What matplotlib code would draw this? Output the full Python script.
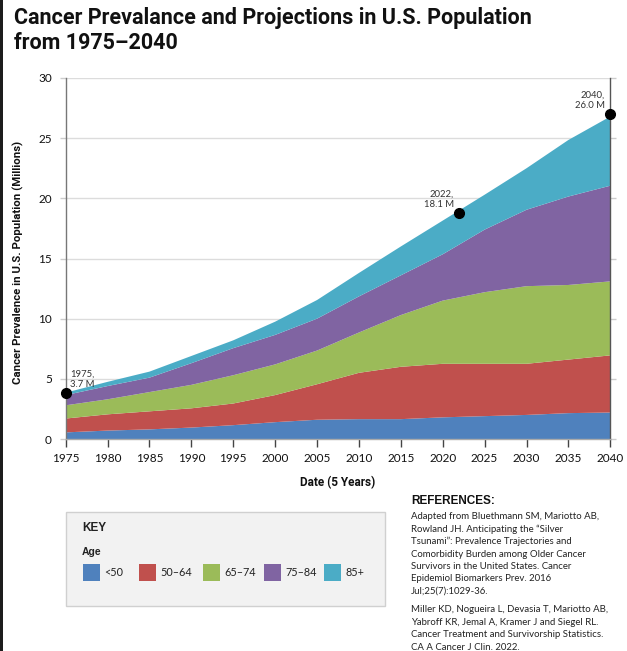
import matplotlib
matplotlib.use("Agg")
import matplotlib.pyplot as plt
from matplotlib.patches import Rectangle

# ---------------- data ----------------
years = [1975, 1980, 1985, 1990, 1995, 2000, 2005, 2010, 2015, 2020, 2025, 2030, 2035, 2040]
age_groups = ["<50", "50–64", "65–74", "75–84", "85+"]
under50 = [0.55, 0.70, 0.80, 0.95, 1.15, 1.40, 1.60, 1.65, 1.65, 1.80, 1.90, 2.00, 2.15, 2.20]
age50_64 = [1.15, 1.35, 1.50, 1.60, 1.80, 2.25, 2.95, 3.85, 4.35, 4.45, 4.35, 4.25, 4.45, 4.75]
age65_74 = [1.10, 1.25, 1.60, 1.95, 2.35, 2.55, 2.80, 3.35, 4.30, 5.25, 5.95, 6.45, 6.20, 6.15]
age75_84 = [0.85, 1.10, 1.20, 1.80, 2.25, 2.45, 2.65, 3.00, 3.30, 3.85, 5.20, 6.35, 7.35, 7.95]
age85p = [0.20, 0.35, 0.50, 0.60, 0.65, 1.10, 1.55, 1.95, 2.40, 2.80, 2.90, 3.45, 4.70, 5.75]
colors = ["#4f81bd", "#c0504d", "#9bbb59", "#8064a2", "#4bacc6"]

marker_years = [1975, 2022, 2040]
marker_values = [3.85, 18.8, 27.0]
marker_labels = ["1975,\n3.7 M", "2022,\n18.1 M", "2040,\n26.0 M"]

x_ticks = list(range(1975, 2041, 5))
y_ticks = [0, 5, 10, 15, 20, 25, 30]

references = [
    ["Adapted from Bluethmann SM, Mariotto AB,",
     "Rowland JH. Anticipating the \u201cSilver",
     "Tsunami\u201d: Prevalence Trajectories and",
     "Comorbidity Burden among Older Cancer",
     "Survivors in the United States. Cancer",
     "Epidemiol Biomarkers Prev. 2016",
     "Jul;25(7):1029-36."],
    ["Miller KD, Nogueira L, Devasia T, Mariotto AB,",
     "Yabroff KR, Jemal A, Kramer J and Siegel RL.",
     "Cancer Treatment and Survivorship Statistics.",
     "CA A Cancer J Clin. 2022."],
]

# ---------------- layout helpers ----------------
W, H = 627, 651
NARROW = ["Lato", "DejaVu Sans"]
BOLDF = ["Roboto", "DejaVu Sans"]
ARIAL = ["Liberation Sans", "DejaVu Sans"]


def fx(x):
    return x / W


def fy(y):
    return 1 - y / H


fig = plt.figure(figsize=(W / 100, H / 100), dpi=100)
fig.patch.set_facecolor("white")

# left dark border
fig.add_artist(Rectangle((0, 0), fx(3), 1, transform=fig.transFigure,
                         facecolor="#1c1c1c", edgecolor="none"))

# title
fig.text(fx(14), fy(18), "Cancer Prevalance and Projections in U.S. Population",
         family=BOLDF, fontweight="bold", fontsize=15.5,
         va="center", ha="left", color="#111111")
fig.text(fx(14), fy(43), "from 1975\u20132040",
         family=BOLDF, fontweight="bold", fontsize=15.5,
         va="center", ha="left", color="#111111")

# ---------------- main axes ----------------
ax = fig.add_axes([fx(65.7), fy(439), fx(610.3) - fx(65.7), fy(78) - fy(439)])
ax.stackplot(years, under50, age50_64, age65_74, age75_84, age85p,
             colors=colors, linewidth=0, zorder=2)
ax.set_xlim(1975, 2040)
ax.set_ylim(0, 30)
ax.set_xticks(x_ticks)
ax.set_yticks(y_ticks)
ax.set_xticklabels([str(v) for v in x_ticks], family=NARROW, fontsize=8.5, color="#111111")
ax.set_yticklabels([str(v) for v in y_ticks], family=NARROW, fontsize=8.5, color="#111111")
ax.yaxis.grid(True, color="#dcdcdc", linewidth=1.0, zorder=0)
ax.set_axisbelow(True)
ax.tick_params(axis="x", direction="out", length=6, width=1, color="#444444", pad=4)
ax.tick_params(axis="y", direction="out", length=4, width=1, color="#cccccc", pad=6,
               right=True, labelright=False)
ax.spines["top"].set_visible(False)
ax.spines["left"].set_color("#777777")
ax.spines["right"].set_color("#555555")
ax.spines["bottom"].set_color("#aaaaaa")
for s in ax.spines.values():
    s.set_linewidth(1)

ax.set_xlabel("Date (5 Years)", family=BOLDF, fontweight="bold", fontsize=8.5,
              color="#111111")
ax.xaxis.set_label_coords(0.5, -0.103)
ax.set_ylabel("Cancer Prevalence in U.S. Population (Millions)", family=BOLDF,
              fontweight="bold", fontsize=8.2, color="#111111")
ax.yaxis.set_label_coords(-0.077, 0.49)

# markers and annotations
ax.plot(marker_years, marker_values, "o", color="black", markersize=7, clip_on=False, zorder=5)
offsets = [(3, 3, "left"), (-4, 3, "right"), (-4, 3, "right")]
for xv, yv, lab, (dx, dy, ha) in zip(marker_years, marker_values, marker_labels, offsets):
    ax.annotate(lab, (xv, yv), xytext=(dx, dy), textcoords="offset points",
                ha=ha, va="bottom", family=NARROW, fontsize=6.8, color="#333333",
                linespacing=1.15, zorder=6)

# ---------------- key box ----------------
fig.add_artist(Rectangle((fx(66), fy(606)), fx(385) - fx(66), fy(512) - fy(606),
                         transform=fig.transFigure, facecolor="#f2f2f2",
                         edgecolor="#d0d0d0", linewidth=1))
fig.text(fx(82), fy(528), "KEY", family=ARIAL, fontweight="bold", fontsize=8.5,
         va="center", ha="left", color="#222222")
fig.text(fx(82), fy(552), "Age", family=ARIAL, fontweight="bold", fontsize=7.5,
         va="center", ha="left", color="#222222")
swatch_x = [83, 139, 203, 264, 324]
for sx, lab, col in zip(swatch_x, age_groups, colors):
    fig.add_artist(Rectangle((fx(sx), fy(581)), fx(17), fy(564) - fy(581),
                             transform=fig.transFigure, facecolor=col, edgecolor="none"))
    fig.text(fx(sx + 21), fy(572.5), lab, family=NARROW, fontsize=7.8,
             va="center", ha="left", color="#222222")

# ---------------- references ----------------
fig.text(fx(411), fy(501.5), "REFERENCES:", family=ARIAL, fontweight="bold", fontsize=8.5,
         va="center", ha="left", color="#111111")
para_starts = [516.7, 610.0]
for start, para in zip(para_starts, references):
    for i, line in enumerate(para):
        fig.text(fx(411), fy(start + i * 12.45), line, family=NARROW, fontsize=6.9,
                 va="center", ha="left", color="#222222")

fig.savefig("out.png", dpi=100, facecolor="white")
